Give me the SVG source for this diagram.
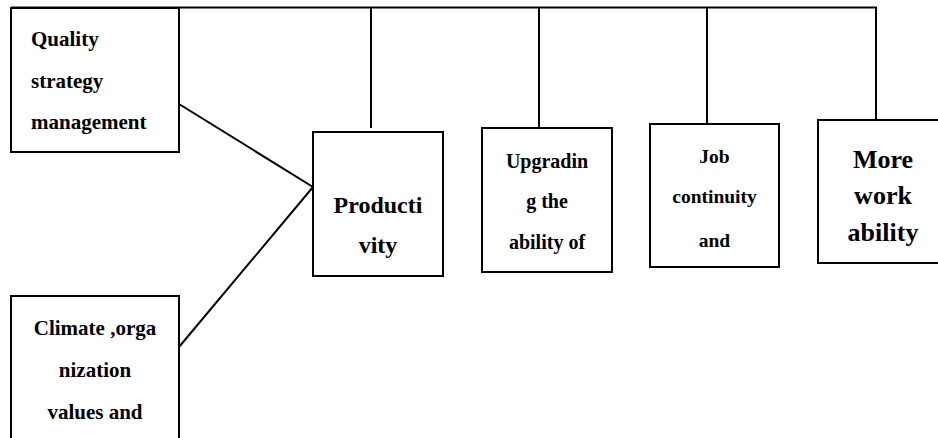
<svg xmlns="http://www.w3.org/2000/svg" width="938" height="438" viewBox="0 0 938 438">
<style>
.box{fill:#fff;stroke:#000;stroke-width:2}
.ln{fill:none;stroke:#000;stroke-width:2}
text{font-family:'Liberation Serif','DejaVu Serif',serif;font-weight:700;fill:#000}
.c{text-anchor:middle}
</style>
<rect width="938" height="438" fill="#fff"/>
<g id="connectors">
<polyline class="ln" points="11,7.5 876,7.5 876,128"/>
<line class="ln" x1="371" y1="7.5" x2="371" y2="128"/>
<line class="ln" x1="539" y1="7.5" x2="539" y2="128"/>
<line class="ln" x1="707" y1="7.5" x2="707" y2="124"/>
<line class="ln" x1="179" y1="104" x2="313" y2="187"/>
<line class="ln" x1="179" y1="347" x2="313" y2="187"/>
</g>
<g id="quality">
<rect class="box" x="11" y="8" width="168" height="144"/>
<text x="31" y="45.5" font-size="21">Quality</text>
<text x="31" y="88" font-size="21">strategy</text>
<text x="31" y="128.5" font-size="21">management</text>
</g>
<g id="climate">
<rect class="box" x="11" y="296" width="168" height="150"/>
<text class="c" x="95" y="335" font-size="21">Climate ,orga</text>
<text class="c" x="95" y="377" font-size="21">nization</text>
<text class="c" x="95" y="419" font-size="21">values and</text>
</g>
<g id="productivity">
<rect class="box" x="313" y="132" width="130" height="144"/>
<text class="c" x="378" y="213" font-size="24">Producti</text>
<text class="c" x="378" y="253" font-size="24">vity</text>
</g>
<g id="upgrading">
<rect class="box" x="482" y="128" width="130" height="144"/>
<text class="c" x="547" y="168" font-size="20">Upgradin</text>
<text class="c" x="547" y="208" font-size="20">g the</text>
<text class="c" x="547" y="249" font-size="20">ability of</text>
</g>
<g id="job">
<rect class="box" x="650" y="124" width="129" height="143"/>
<text class="c" x="714.5" y="163" font-size="19.5">Job</text>
<text class="c" x="714.5" y="203" font-size="19.5">continuity</text>
<text class="c" x="714.5" y="247" font-size="19.5">and</text>
</g>
<g id="more">
<rect class="box" x="818" y="120" width="130" height="143"/>
<text class="c" x="883" y="168" font-size="26">More</text>
<text class="c" x="883" y="204" font-size="26">work</text>
<text class="c" x="883" y="241" font-size="26">ability</text>
</g>
</svg>
